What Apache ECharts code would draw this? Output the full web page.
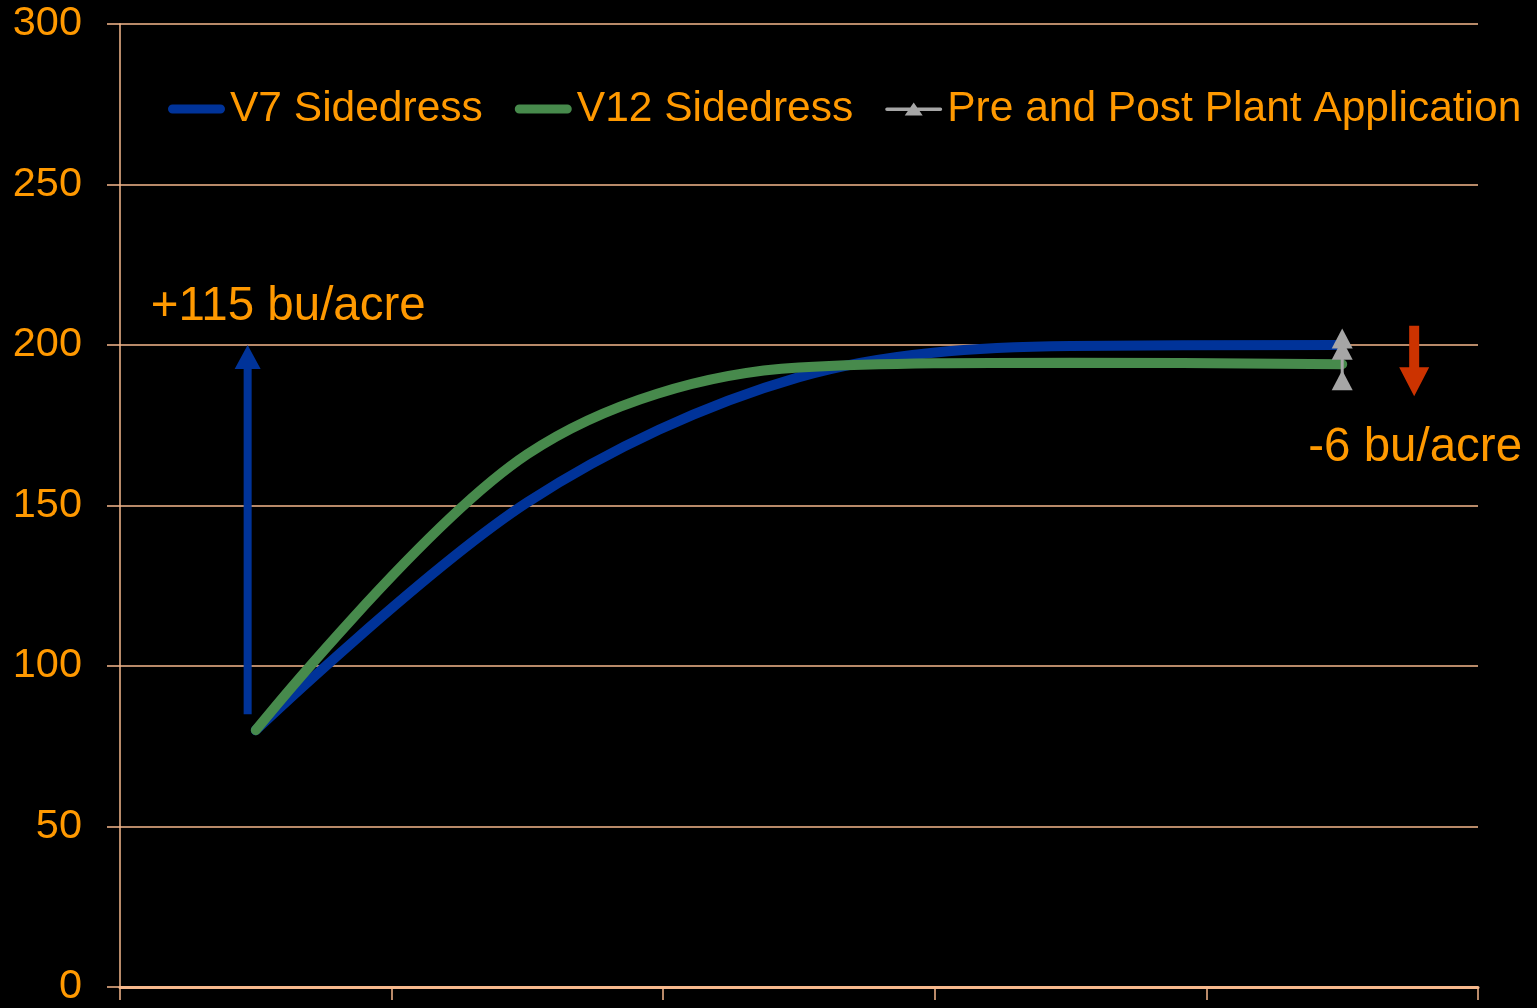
<!DOCTYPE html>
<html>
<head>
<meta charset="utf-8">
<script src="https://cdn.jsdelivr.net/npm/echarts@6/dist/echarts.min.js"></script>
<style>
  html, body { margin: 0; padding: 0; background: #000; }
  #chart { width: 1537px; height: 1008px; }
</style>
</head>
<body>
<div id="chart"></div>
<script>
// Growth stages along the season (axis labels are not shown)
const categories = ['1', '2', '3', '4', '5'];

// Yield response curves, bu/acre
const v7Values = [80, 151, 190, 199.7, 200];
const v12Values = [80, 166, 193, 194.5, 194];

// Pre and post plant application readings, all at the last stage
const prePostStage = 4;
const prePostValues = [202, 198.5, 189];

// Arrow annotations: x position on a 0..5 scale, start and end yield
const arrowX = [0.47, 4.765];
const arrowFrom = [85, 206];
const arrowTo = [200, 184];
const arrowText = ['+115 bu/acre', '-6 bu/acre'];

// y axis ticks
const yMin = 0, yMax = 300, yStep = 50;

const ORANGE = '#FF9900';
const PEACH = '#F6B88C';
const FONT = 'Liberation Sans, Arial, sans-serif';
const BLUE = '#003399';
const GREEN = '#478A4C';
const GREY = '#A6A6A6';

const arrowLook = [
  { color: BLUE, shaft: 8, headW: 26, headH: 24, dx: -97, dy: -38, align: 'left' },
  { color: '#CC3300', shaft: 10, headW: 30, headH: 29, dx: 1, dy: 52, align: 'center' }
];

// Legend icons in a 57x14 box; the tiny corner strokes pin the box size
const BOX = 'M0,0L0.01,0M57,14L56.99,14';
const capsuleIcon = 'path://' + BOX +
  'M4.5,2.5L52.5,2.5A4.5,4.5,0,0,1,52.5,11.5L4.5,11.5A4.5,4.5,0,0,1,4.5,2.5Z';
const triangleLineIcon = 'path://' + BOX +
  'M1.75,5.5L55.25,5.5A1.75,1.75,0,0,1,55.25,9L1.75,9A1.75,1.75,0,0,1,1.75,5.5Z' +
  'M19.5,13.5L28.5,0.5L37.5,13.5Z';

const chart = echarts.init(document.getElementById('chart'), null, { renderer: 'canvas' });

chart.setOption({
  backgroundColor: '#000000',
  animation: false,
  grid: { left: 120, right: 59, top: 24, bottom: 12, containLabel: false },
  legend: {
    left: 163,
    top: 81,
    itemWidth: 57,
    itemHeight: 14,
    itemGap: 32,
    textStyle: { color: ORANGE, fontSize: 42.5, fontFamily: FONT, lineHeight: 46 },
    data: [
      { name: 'V7 Sidedress', icon: capsuleIcon },
      { name: 'V12 Sidedress', icon: capsuleIcon },
      { name: 'Pre and Post Plant Application', icon: triangleLineIcon }
    ]
  },
  xAxis: [
    {
      type: 'category',
      data: categories,
      boundaryGap: true,
      axisLine: { show: true, lineStyle: { color: PEACH, width: 3 } },
      axisTick: { show: true, length: 13, inside: false, lineStyle: { color: PEACH, width: 1.5 } },
      axisLabel: { show: false },
      splitLine: { show: false }
    },
    {
      type: 'value',
      min: 0,
      max: 5,
      show: false
    }
  ],
  yAxis: {
    type: 'value',
    min: yMin,
    max: yMax,
    interval: yStep,
    axisLine: { show: true, lineStyle: { color: PEACH, width: 1.5 } },
    axisTick: { show: true, length: 13, lineStyle: { color: PEACH, width: 1.5 } },
    axisLabel: { color: ORANGE, fontSize: 41.5, fontFamily: FONT, margin: 38 },
    splitLine: { show: true, lineStyle: { color: PEACH, width: 1.5 } }
  },
  series: [
    {
      name: 'V7 Sidedress',
      type: 'line',
      data: v7Values,
      smooth: 0.33,
      symbol: 'none',
      lineStyle: { color: BLUE, width: 10, cap: 'round' },
      itemStyle: { color: BLUE },
      z: 3
    },
    {
      name: 'V12 Sidedress',
      type: 'line',
      data: v12Values,
      smooth: 0.33,
      symbol: 'none',
      lineStyle: { color: GREEN, width: 10, cap: 'round' },
      itemStyle: { color: GREEN },
      z: 4
    },
    {
      name: 'Pre and Post Plant Application',
      type: 'line',
      data: prePostValues.map(v => [prePostStage, v]),
      symbol: 'triangle',
      symbolSize: [21, 20],
      lineStyle: { color: GREY, width: 3 },
      itemStyle: { color: GREY },
      z: 5
    },
    {
      type: 'custom',
      xAxisIndex: 1,
      yAxisIndex: 0,
      silent: true,
      z: 6,
      data: arrowX.map((x, i) => [x, arrowFrom[i], arrowTo[i]]),
      renderItem: function (params, api) {
        const i = params.dataIndex;
        const look = arrowLook[i];
        const p0 = api.coord([api.value(0), api.value(1)]);
        const p1 = api.coord([api.value(0), api.value(2)]);
        const dir = p1[1] < p0[1] ? -1 : 1; // -1 means pointing up
        const x = p0[0];
        const baseY = p1[1] - dir * look.headH;
        const hs = look.shaft / 2, hw = look.headW / 2;
        return {
          type: 'group',
          children: [
            {
              type: 'polygon',
              shape: {
                points: [
                  [x - hs, p0[1]], [x + hs, p0[1]],
                  [x + hs, baseY], [x + hw, baseY],
                  [x, p1[1]],
                  [x - hw, baseY], [x - hs, baseY]
                ]
              },
              style: { fill: look.color }
            },
            {
              type: 'text',
              x: x + look.dx,
              y: p1[1] + look.dy,
              style: {
                text: arrowText[i],
                fill: ORANGE,
                font: '47.5px ' + FONT,
                align: look.align,
                verticalAlign: 'middle'
              }
            }
          ]
        };
      }
    }
  ]
});
</script>
</body>
</html>
